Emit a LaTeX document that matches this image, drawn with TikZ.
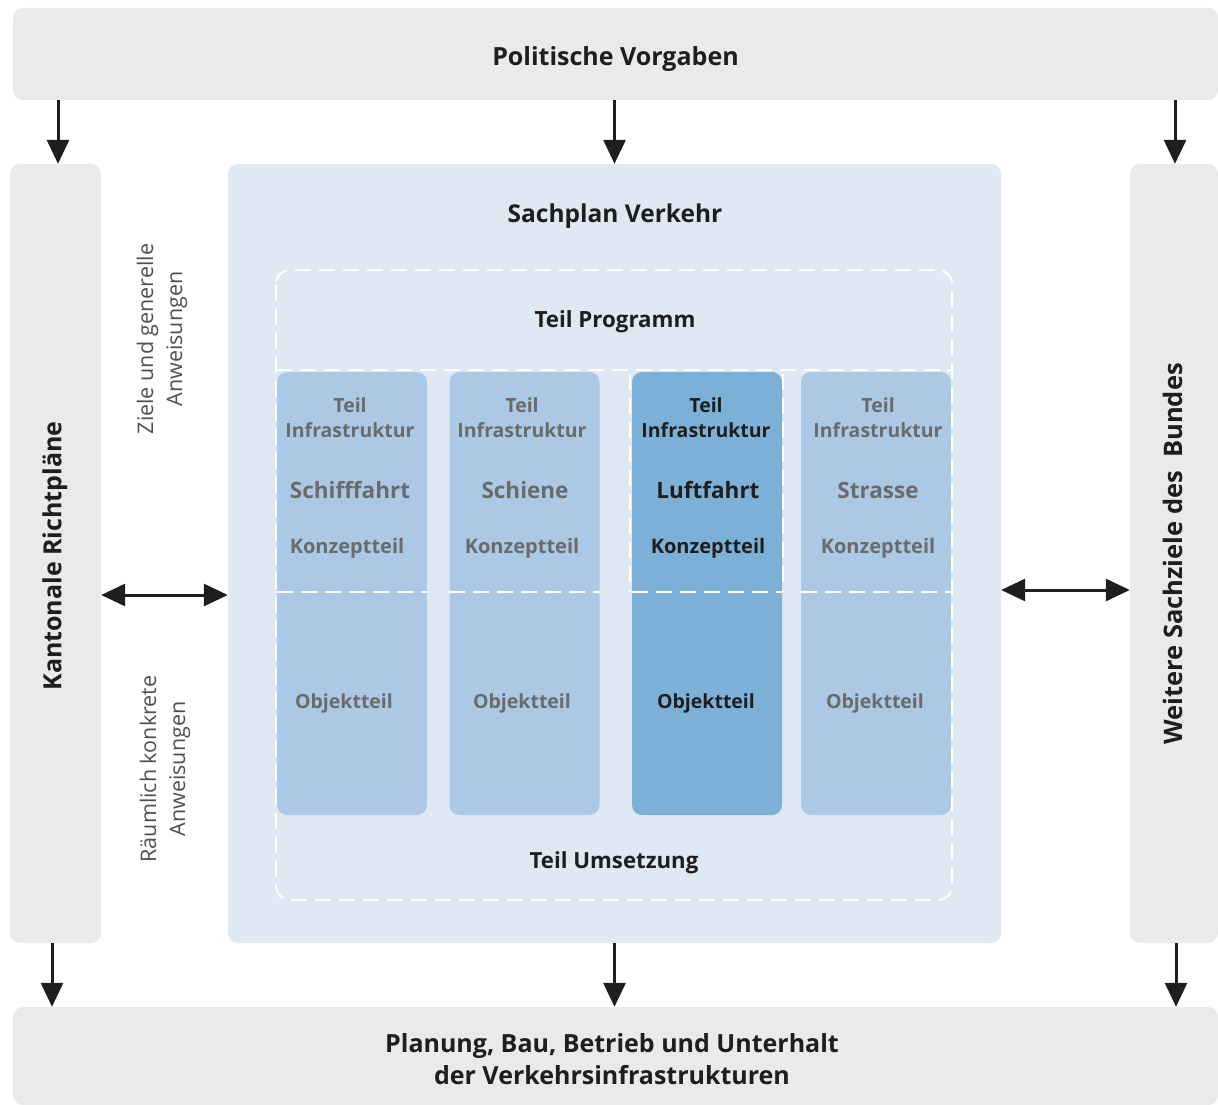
\documentclass[tikz,border=0pt]{standalone}
\usepackage{fontspec}
\setmainfont{Open Sans}
\usetikzlibrary{arrows.meta,calc}
\definecolor{boxgray}{HTML}{EAEAEA}
\definecolor{sachbg}{HTML}{DFE9F3}
\definecolor{collight}{HTML}{ABC9E4}
\definecolor{coldark}{HTML}{7DB0D7}
\definecolor{txtgray}{HTML}{6B6B6B}
\definecolor{txtdark}{HTML}{1E1E1E}
\definecolor{txtlight}{HTML}{505050}
\begin{document}
\begin{tikzpicture}[x=1pt,y=-1pt,
  graybox/.style={fill=boxgray,draw=none,rounded corners=10pt,inner sep=0pt},
  colbox/.style={fill=collight,draw=none,rounded corners=10pt,inner sep=0pt,minimum width=150pt,minimum height=443pt},
  dashline/.style={draw=white,line width=2pt,dash pattern=on 16pt off 8pt},
  arr/.style={line width=3pt,-{Triangle[length=24pt,width=22pt]},txtdark},
  darr/.style={line width=3pt,{Triangle[length=24pt,width=22pt]}-{Triangle[length=24pt,width=22pt]},txtdark},
  head/.style={font=\fontsize{25}{29}\selectfont\bfseries,text=txtdark,inner sep=0pt},
  small/.style={font=\fontsize{19.5}{25}\selectfont\bfseries,inner sep=0pt,align=center},
  konz/.style={font=\fontsize{20}{25}\selectfont\bfseries,inner sep=0pt},
  big/.style={font=\fontsize{22.5}{26}\selectfont\bfseries,inner sep=0pt},
  side/.style={font=\fontsize{21.5}{29}\selectfont,text=txtlight,inner sep=0pt,align=center,rotate=90}
]
\useasboundingbox (0,0) rectangle (1218,1105);
\fill[white] (0,0) rectangle (1218,1105);

% outer boxes
\node[graybox,minimum width=1205pt,minimum height=92pt] (top) at (615.5,54) {};
\node[head] (toptxt) at (615.5,59) {Politische Vorgaben};
\node[graybox,minimum width=91pt,minimum height=779pt] (lb) at (55.5,553.5) {};
\node[head,rotate=90] (lbtxt) at (55,556) {Kantonale Richtpläne};
\node[graybox,minimum width=88pt,minimum height=779pt] (rb) at (1174,553.5) {};
\node[head,rotate=90,font=\fontsize{25.5}{29}\selectfont\bfseries] (rbtxt) at (1173,554) {Weitere Sachziele des\ \ Bundes};
\node[graybox,minimum width=1205pt,minimum height=98pt] (bot) at (615.5,1056) {};
\node[head,align=center,font=\fontsize{25}{32}\selectfont\bfseries] (bottxt) at (612,1059) {Planung, Bau, Betrieb und Unterhalt\\der Verkehrsinfrastrukturen};

% central box
\node[fill=sachbg,draw=none,rounded corners=10pt,inner sep=0pt,minimum width=773pt,minimum height=779pt] (sv) at (614.5,553.5) {};
\node[head,font=\fontsize{24.5}{29}\selectfont\bfseries] (svtxt) at (615,216) {Sachplan Verkehr};
\node[inner sep=0pt,minimum width=676pt,minimum height=630pt] (dash) at (614,585) {};
\node[head,font=\fontsize{22.3}{26}\selectfont\bfseries] (prog) at (615,322) {Teil Programm};
\node[head,font=\fontsize{22.2}{26}\selectfont\bfseries] (ums) at (614,863) {Teil Umsetzung};

% columns
\node[colbox] (c1) at (352,593.5) {};
\node[colbox] (c2) at (524.5,593.5) {};
\node[colbox,fill=coldark] (c3) at (707,593.5) {};
\node[colbox] (c4) at (876,593.5) {};

% dashed lines
\draw[dashline,rounded corners=15pt] (dash.north west) rectangle (dash.south east);
\coordinate (ytop) at (0,370);
\coordinate (ysplit) at (0,592);
\draw[dashline] (dash.west |- ytop) -- (dash.east |- ytop);
\foreach \c in {c1,c2,c3,c4}{
  \draw[dashline] (\c.west |- ysplit) -- (\c.east |- ysplit);
}
\draw[dashline] ($(c3.north west)+(-2,2)$) -- ($(c3.west |- ysplit)+(-2,0)$);
\draw[dashline] ($(c3.north east)+(1,2)$) -- ($(c3.east |- ysplit)+(1,0)$);

% column texts
\node[small,text=txtgray] (t1a) at (350,418) {Teil\\Infrastruktur};
\node[big,text=txtgray] (t1b) at (350,490) {Schifffahrt};
\node[konz,text=txtgray] (t1c) at (347,548) {Konzeptteil};
\node[konz,text=txtgray,font=\fontsize{19.5}{25}\selectfont\bfseries] (t1d) at (344,703) {Objektteil};

\node[small,text=txtgray] (t2a) at (522,418) {Teil\\Infrastruktur};
\node[big,text=txtgray] (t2b) at (525,490) {Schiene};
\node[konz,text=txtgray] (t2c) at (522,548) {Konzeptteil};
\node[konz,text=txtgray,font=\fontsize{19.5}{25}\selectfont\bfseries] (t2d) at (522,703) {Objektteil};

\node[small,text=txtdark] (t3a) at (706,418) {Teil\\Infrastruktur};
\node[big,text=txtdark] (t3b) at (708,490) {Luftfahrt};
\node[konz,text=txtdark] (t3c) at (708,548) {Konzeptteil};
\node[konz,text=txtdark,font=\fontsize{19.5}{25}\selectfont\bfseries] (t3d) at (706,703) {Objektteil};

\node[small,text=txtgray] (t4a) at (878,418) {Teil\\Infrastruktur};
\node[big,text=txtgray] (t4b) at (878,490) {Strasse};
\node[konz,text=txtgray] (t4c) at (878,548) {Konzeptteil};
\node[konz,text=txtgray,font=\fontsize{19.5}{25}\selectfont\bfseries] (t4d) at (875,703) {Objektteil};

% side texts
\node[side] (ziele) at (162,339) {Ziele und generelle\\Anweisungen};
\node[side] (raum) at (165,769) {Räumlich konkrete\\Anweisungen};

% arrows
\draw[arr] (top.south -| 58,0) -- (lb.north -| 58,0);
\draw[arr] (top.south -| sv.north) -- (sv.north);
\draw[arr] (top.south -| 1175,0) -- (rb.north -| 1175,0);
\draw[arr] (lb.south -| 52,0) -- (bot.north -| 52,0);
\draw[arr] (sv.south) -- (bot.north -| sv.south);
\draw[arr] (rb.south -| 1176,0) -- (bot.north -| 1176,0);
\coordinate (yl) at (0,595);
\coordinate (yr) at (0,590);
\draw[darr] (lb.east |- yl) -- (sv.west |- yl);
\draw[darr] (sv.east |- yr) -- (rb.west |- yr);
\end{tikzpicture}
\end{document}
